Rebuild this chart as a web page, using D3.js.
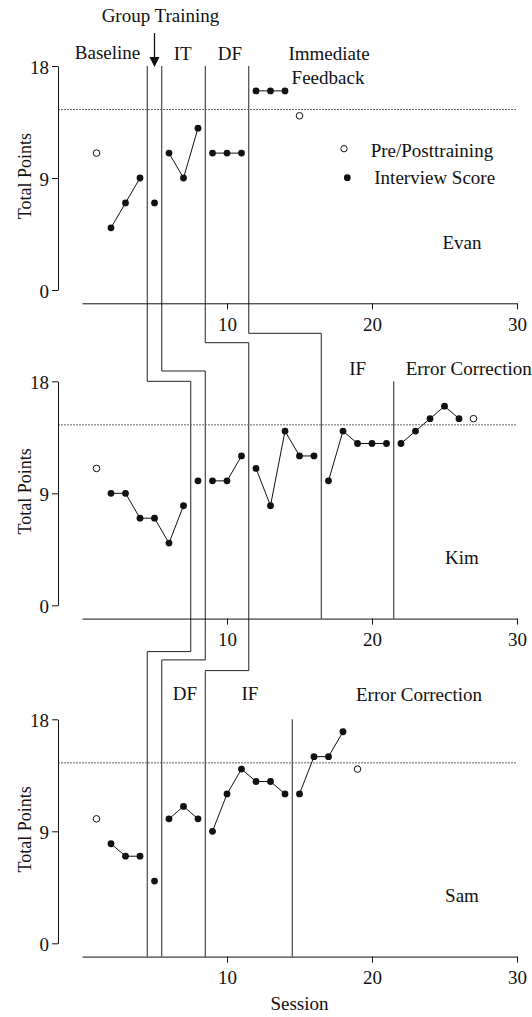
<!DOCTYPE html>
<html>
<head>
<meta charset="utf-8">
<script src="https://cdn.jsdelivr.net/npm/d3@7/dist/d3.min.js"></script>
<style>
  body { margin: 0; background: #fff; }
  svg text { font-family: "Liberation Serif", "Times New Roman", serif; font-size: 19px; fill: #111; }
</style>
</head>
<body>
<div id="chart"></div>
<script>
// axis ticks
var sessionTicks = [10, 20, 30];
var pointTicks = [0, 9, 18];
var criterion = 14.5;

var participants = ["Evan", "Kim", "Sam"];

// interview scores (filled dots)
var evanSessions = [2, 3, 4, 5, 6, 7, 8, 9, 10, 11, 12, 13, 14];
var evanScores   = [5, 7, 9, 7, 11, 9, 13, 11, 11, 11, 16, 16, 16];
var kimSessions  = [2, 3, 4, 5, 6, 7, 8, 9, 10, 11, 12, 13, 14, 15, 16, 17, 18, 19, 20, 21, 22, 23, 24, 25, 26];
var kimScores    = [9, 9, 7, 7, 5, 8, 10, 10, 10, 12, 11, 8, 14, 12, 12, 10, 14, 13, 13, 13, 13, 14, 15, 16, 15];
var samSessions  = [2, 3, 4, 5, 6, 7, 8, 9, 10, 11, 12, 13, 14, 15, 16, 17, 18];
var samScores    = [8, 7, 7, 5, 10, 11, 10, 9, 12, 14, 13, 13, 12, 12, 15, 15, 17];

// pre/posttraining (open circles)
var evanPreSessions = [1, 15], evanPre = [11, 14];
var kimPreSessions  = [1, 27], kimPre  = [11, 15];
var samPreSessions  = [1, 19], samPre  = [10, 14];

// phase change lines (between sessions)
var evanPhases = [4.5, 5.5, 8.5, 11.5];
var kimPhases  = [7.5, 8.5, 11.5, 16.5, 21.5];
var samPhases  = [4.5, 5.5, 8.5, 14.5];

var panels = [
  { name: "Evan", sessions: evanSessions, scores: evanScores, preS: evanPreSessions, pre: evanPre, phases: evanPhases },
  { name: "Kim",  sessions: kimSessions,  scores: kimScores,  preS: kimPreSessions,  pre: kimPre,  phases: kimPhases },
  { name: "Sam",  sessions: samSessions,  scores: samScores,  preS: samPreSessions,  pre: samPre,  phases: samPhases }
];

// staircase links: phase index in upper panel -> phase index in lower panel, with drop below upper axis
var links = [
  { panel: 0, pairs: [[0, 0], [1, 1], [2, 2], [3, 3]], drops: [78, 67.7, 39.4, 30] },
  { panel: 1, pairs: [[0, 0], [1, 1], [2, 2]], drops: [33, 41.3, 52] }
];

var width = 532, height = 1017;
var panelTops = [66, 381.3, 719.3],
    plotH = 224,
    axisGap = 13.3;

var svg = d3.select("#chart").append("svg")
  .attr("width", width)
  .attr("height", height);

var x = d3.scaleLinear()
  .domain([0, 30])
  .range([82, 517]);

panels.forEach(function(p, i) {
  var top = panelTops[i];
  p.y = d3.scaleLinear().domain([0, 18]).range([top + plotH, top]);
  p.axisY = top + plotH + axisGap;
});

var line = d3.line()
  .x(function(d) { return d[0]; })
  .y(function(d) { return d[1]; });

// phase lines, drawn as chains through the panels
function findLink(i, j) {
  var res = null;
  links.forEach(function(l) {
    if (l.panel !== i) return;
    l.pairs.forEach(function(pr, k) {
      if (pr[0] === j) res = { to: pr[1], drop: l.drops[k] };
    });
  });
  return res;
}
function linkedFromAbove(i, j) {
  var hit = false;
  links.forEach(function(l) {
    if (l.panel !== i - 1) return;
    l.pairs.forEach(function(pr) { if (pr[1] === j) hit = true; });
  });
  return hit;
}

var chains = [];
panels.forEach(function(p, i) {
  p.phases.forEach(function(ph, j) {
    if (linkedFromAbove(i, j)) return;
    var pts = [[x(ph), p.y(18)]];
    var ci = i, cj = j;
    while (true) {
      var lk = findLink(ci, cj);
      var cx = x(panels[ci].phases[cj]);
      if (!lk) { pts.push([cx, panels[ci].axisY]); break; }
      var ey = panels[ci].axisY + lk.drop;
      pts.push([cx, ey]);
      pts.push([x(panels[ci + 1].phases[lk.to]), ey]);
      ci = ci + 1; cj = lk.to;
    }
    chains.push(pts);
  });
});

svg.selectAll(".phase")
  .data(chains)
  .enter().append("path")
    .attr("class", "phase")
    .attr("d", line)
    .attr("fill", "none")
    .attr("stroke", "#222")
    .attr("stroke-width", 1);

// split scores into connected segments within each phase
function segments(sessions, scores, phases) {
  var segs = [], cur = [];
  sessions.forEach(function(s, k) {
    if (k > 0) {
      var prev = sessions[k - 1];
      var brk = phases.some(function(ph) { return ph > prev && ph < s; });
      if (brk) { segs.push(cur); cur = []; }
    }
    cur.push([s, scores[k]]);
  });
  segs.push(cur);
  return segs;
}

panels.forEach(function(p, i) {
  var g = svg.append("g");
  var y = p.y;

  // criterion line
  g.append("line")
    .attr("x1", 58).attr("x2", x(30))
    .attr("y1", y(criterion)).attr("y2", y(criterion))
    .attr("stroke", "#666")
    .attr("stroke-width", 1)
    .attr("stroke-dasharray", "2,1");

  // y axis
  var ya = g.append("g")
    .attr("transform", "translate(58,0)")
    .call(d3.axisLeft(y).tickValues(pointTicks).tickSize(6).tickSizeOuter(0).tickPadding(3));
  ya.select(".domain").attr("stroke", "#111");
  ya.selectAll(".tick line").attr("stroke", "#111");
  ya.selectAll("text")
    .attr("font-size", null)
    .attr("font-family", null)
    .attr("dy", "0.38em");

  // x axis
  var xa = g.append("g")
    .attr("transform", "translate(0," + p.axisY + ")")
    .call(d3.axisBottom(x).tickValues(sessionTicks).tickSize(6).tickSizeOuter(0).tickPadding(8));
  xa.select(".domain").attr("stroke", "#111");
  xa.selectAll(".tick line").attr("stroke", "#111");
  xa.selectAll("text")
    .attr("font-size", null)
    .attr("font-family", null);
  xa.attr("font-size", null).attr("font-family", null);
  ya.attr("font-size", null).attr("font-family", null);

  // y axis label
  g.append("text")
    .attr("transform", "rotate(-90)")
    .attr("x", -(panelTops[i] + plotH / 2 - 2))
    .attr("y", 31)
    .style("text-anchor", "middle")
    .style("font-size", "18px")
    .text("Total Points");

  // lines
  g.selectAll(".seg")
    .data(segments(p.sessions, p.scores, p.phases))
    .enter().append("path")
      .attr("class", "seg")
      .attr("d", function(d) { return line(d.map(function(v) { return [x(v[0]), y(v[1])]; })); })
      .attr("fill", "none")
      .attr("stroke", "#111")
      .attr("stroke-width", 1);

  // interview dots
  g.selectAll(".dot")
    .data(p.sessions)
    .enter().append("circle")
      .attr("class", "dot")
      .attr("cx", function(d) { return x(d); })
      .attr("cy", function(d, k) { return y(p.scores[k]); })
      .attr("r", 3.4)
      .attr("fill", "#111");

  // pre / post
  g.selectAll(".pre")
    .data(p.preS)
    .enter().append("circle")
      .attr("class", "pre")
      .attr("cx", function(d) { return x(d); })
      .attr("cy", function(d, k) { return y(p.pre[k]); })
      .attr("r", 3.3)
      .attr("fill", "#fff")
      .attr("stroke", "#111")
      .attr("stroke-width", 1);

  // participant name
  g.append("text")
    .attr("x", 462)
    .attr("y", panelTops[i] + 183)
    .style("text-anchor", "middle")
    .text(p.name);
});

// phase labels
var labels = [
  ["Group Training", 160.5, 22],
  ["Baseline", 107.5, 59],
  ["IT", 182.7, 60],
  ["DF", 230, 60],
  ["Immediate", 329, 60],
  ["Feedback", 328, 84],
  ["IF", 357.7, 375],
  ["Error Correction", 468.7, 375],
  ["DF", 185, 700],
  ["IF", 250, 700],
  ["Error Correction", 419, 701]
];
svg.selectAll(".lab")
  .data(labels)
  .enter().append("text")
    .attr("class", "lab")
    .attr("x", function(d) { return d[1]; })
    .attr("y", function(d) { return d[2]; })
    .style("text-anchor", "middle")
    .text(function(d) { return d[0]; });

// group training arrow
var ax = x(5);
svg.append("line")
  .attr("x1", ax).attr("x2", ax)
  .attr("y1", 33).attr("y2", 60)
  .attr("stroke", "#111")
  .attr("stroke-width", 1.3);
svg.append("path")
  .attr("d", "M" + (ax - 5) + ",57L" + (ax + 5) + ",57L" + ax + ",67Z")
  .attr("fill", "#111");

// legend
svg.append("circle")
  .attr("cx", 344).attr("cy", 148.7).attr("r", 3.2)
  .attr("fill", "#fff").attr("stroke", "#111");
svg.append("text")
  .attr("x", 370.7).attr("y", 156.5)
  .text("Pre/Posttraining");
svg.append("circle")
  .attr("cx", 347.3).attr("cy", 177.7).attr("r", 3.4)
  .attr("fill", "#111");
svg.append("text")
  .attr("x", 374.3).attr("y", 184.3)
  .text("Interview Score");

// x axis title
svg.append("text")
  .attr("x", 299.5)
  .attr("y", 1010)
  .style("text-anchor", "middle")
  .text("Session");
</script>
</body>
</html>
